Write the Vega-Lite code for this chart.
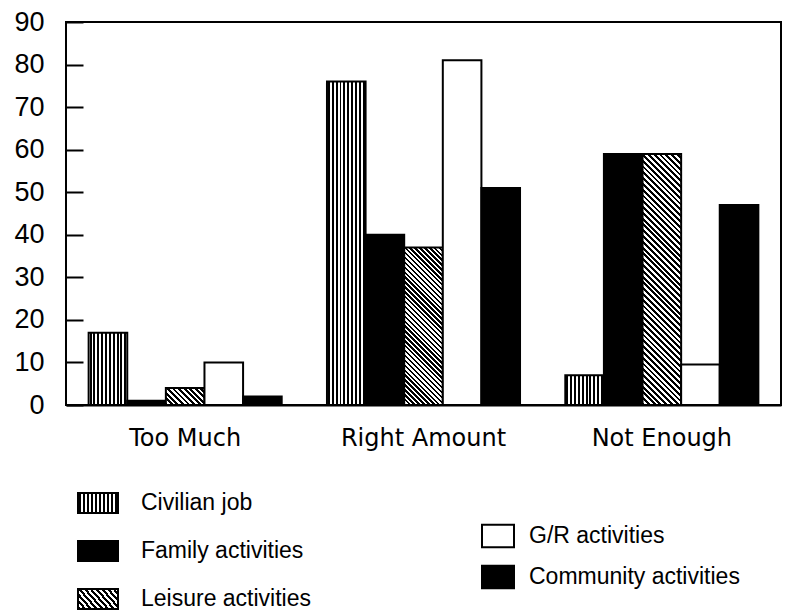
{
"$schema": "https://vega.github.io/schema/vega-lite/v6.json",
"width": 715, "height": 383,
"autosize": "none",
"padding": {"left": 66, "top": 22, "right": 16, "bottom": 208},
"background": "white",
"config": {"font": "Liberation Sans", "view": {"stroke": "black", "strokeWidth": 2, "fill": null}},
"data": {"values": [
{"group":"Too Much","series":"Civilian job","value":17},
{"group":"Too Much","series":"Family activities","value":1},
{"group":"Too Much","series":"Leisure activities","value":4},
{"group":"Too Much","series":"G/R activities","value":10},
{"group":"Too Much","series":"Community activities","value":2},
{"group":"Right Amount","series":"Civilian job","value":76},
{"group":"Right Amount","series":"Family activities","value":40},
{"group":"Right Amount","series":"Leisure activities","value":37},
{"group":"Right Amount","series":"G/R activities","value":81},
{"group":"Right Amount","series":"Community activities","value":51},
{"group":"Not Enough","series":"Civilian job","value":7},
{"group":"Not Enough","series":"Family activities","value":59},
{"group":"Not Enough","series":"Leisure activities","value":59},
{"group":"Not Enough","series":"G/R activities","value":9.5},
{"group":"Not Enough","series":"Community activities","value":47}
]},
"encoding": {
"x": {"field":"group","type":"nominal","sort":["Too Much","Right Amount","Not Enough"],"scale":{"paddingInner":0.19,"paddingOuter":0.095},
 "axis":{"title":null,"ticks":false,"labelAngle":0,"labelFontSize":24,"labelFont":"DejaVu Sans","labelColor":"black","labelPadding":21,"domainColor":"black","domainWidth":2}},
"xOffset": {"field":"series","type":"nominal","scale":{"domain":["Civilian job","Family activities","Leisure activities","G/R activities","Community activities"],"paddingInner":0,"paddingOuter":0}},
"y": {"field":"value","type":"quantitative","scale":{"domain":[0,90],"nice":false},
 "axis":{"title":null,"values":[0,10,20,30,40,50,60,70,80,90],"offset":-17,"domain":false,"ticks":true,"tickSize":17,"tickWidth":2,"tickColor":"black","tickOpacity":1,"labelPadding":22,"labelFontSize":27,"labelColor":"black","zindex":2,"grid":false}}
},
"layer": [
{"transform":[{"filter":{"field":"series","oneOf":["Civilian job","Family activities","Leisure activities"]}}],
 "mark":{"type":"bar","stroke":"black","strokeWidth":2},
 "encoding":{"fill":{"field":"series","type":"nominal",
  "scale":{"domain":["Civilian job","Family activities","Leisure activities"],"range":["url(#gradient_0)","#000000","url(#gradient_1)"]},
  "legend":{"title":null,"orient":"none","legendX":11,"legendY":460,"padding":0,"symbolType":"M-1,-0.5H1V0.5H-1Z","symbolSize":1600,"symbolStrokeColor":"black","symbolStrokeWidth":2,"symbolOpacity":1,"labelFontSize":23,"labelColor":"black","labelOffset":22,"rowPadding":13,"labelLimit":400,
   "encode":{"symbols":{"update":{"stroke":{"value":"#000"},"strokeWidth":{"value":2}}}}},
  "condition":[
   {"test":"datum.series === 'Civilian job'","value":{"gradient":"linear","x1":0,"y1":0,"x2":1,"y2":0,"stops":[{"offset":0,"color":"#fff"},{"offset":0.025,"color":"#fff"},{"offset":0.025,"color":"#000"},{"offset":0.075,"color":"#000"},{"offset":0.075,"color":"#fff"},{"offset":0.125,"color":"#fff"},{"offset":0.125,"color":"#000"},{"offset":0.175,"color":"#000"},{"offset":0.175,"color":"#fff"},{"offset":0.225,"color":"#fff"},{"offset":0.225,"color":"#000"},{"offset":0.275,"color":"#000"},{"offset":0.275,"color":"#fff"},{"offset":0.325,"color":"#fff"},{"offset":0.325,"color":"#000"},{"offset":0.375,"color":"#000"},{"offset":0.375,"color":"#fff"},{"offset":0.425,"color":"#fff"},{"offset":0.425,"color":"#000"},{"offset":0.475,"color":"#000"},{"offset":0.475,"color":"#fff"},{"offset":0.525,"color":"#fff"},{"offset":0.525,"color":"#000"},{"offset":0.575,"color":"#000"},{"offset":0.575,"color":"#fff"},{"offset":0.625,"color":"#fff"},{"offset":0.625,"color":"#000"},{"offset":0.675,"color":"#000"},{"offset":0.675,"color":"#fff"},{"offset":0.725,"color":"#fff"},{"offset":0.725,"color":"#000"},{"offset":0.775,"color":"#000"},{"offset":0.775,"color":"#fff"},{"offset":0.825,"color":"#fff"},{"offset":0.825,"color":"#000"},{"offset":0.875,"color":"#000"},{"offset":0.875,"color":"#fff"},{"offset":0.925,"color":"#fff"},{"offset":0.925,"color":"#000"},{"offset":0.975,"color":"#000"},{"offset":0.975,"color":"#fff"},{"offset":1,"color":"#fff"}]}},
   {"test":"datum.series === 'Leisure activities' && datum.group === 'Too Much'","value":{"gradient":"linear","x1":0,"y1":1,"x2":1.2064,"y2":0.4682,"stops":[{"offset":0,"color":"#000"},{"offset":0.05,"color":"#000"},{"offset":0.05,"color":"#fff"},{"offset":0.1,"color":"#fff"},{"offset":0.1,"color":"#000"},{"offset":0.15,"color":"#000"},{"offset":0.15,"color":"#fff"},{"offset":0.2,"color":"#fff"},{"offset":0.2,"color":"#000"},{"offset":0.25,"color":"#000"},{"offset":0.25,"color":"#fff"},{"offset":0.3,"color":"#fff"},{"offset":0.3,"color":"#000"},{"offset":0.35,"color":"#000"},{"offset":0.35,"color":"#fff"},{"offset":0.4,"color":"#fff"},{"offset":0.4,"color":"#000"},{"offset":0.45,"color":"#000"},{"offset":0.45,"color":"#fff"},{"offset":0.5,"color":"#fff"},{"offset":0.5,"color":"#000"},{"offset":0.55,"color":"#000"},{"offset":0.55,"color":"#fff"},{"offset":0.6,"color":"#fff"},{"offset":0.6,"color":"#000"},{"offset":0.65,"color":"#000"},{"offset":0.65,"color":"#fff"},{"offset":0.7,"color":"#fff"},{"offset":0.7,"color":"#000"},{"offset":0.75,"color":"#000"},{"offset":0.75,"color":"#fff"},{"offset":0.8,"color":"#fff"},{"offset":0.8,"color":"#000"},{"offset":0.85,"color":"#000"},{"offset":0.85,"color":"#fff"},{"offset":0.9,"color":"#fff"},{"offset":0.9,"color":"#000"},{"offset":0.95,"color":"#000"},{"offset":0.95,"color":"#fff"},{"offset":1,"color":"#fff"}]}},
   {"test":"datum.series === 'Leisure activities' && datum.group === 'Right Amount'","value":{"gradient":"linear","x1":0,"y1":1,"x2":0.288,"y2":-0.1746,"stops":[{"offset":0,"color":"#000"},{"offset":0.0125,"color":"#000"},{"offset":0.0125,"color":"#fff"},{"offset":0.025,"color":"#fff"},{"offset":0.025,"color":"#000"},{"offset":0.0375,"color":"#000"},{"offset":0.0375,"color":"#fff"},{"offset":0.05,"color":"#fff"},{"offset":0.05,"color":"#000"},{"offset":0.0625,"color":"#000"},{"offset":0.0625,"color":"#fff"},{"offset":0.075,"color":"#fff"},{"offset":0.075,"color":"#000"},{"offset":0.0875,"color":"#000"},{"offset":0.0875,"color":"#fff"},{"offset":0.1,"color":"#fff"},{"offset":0.1,"color":"#000"},{"offset":0.1125,"color":"#000"},{"offset":0.1125,"color":"#fff"},{"offset":0.125,"color":"#fff"},{"offset":0.125,"color":"#000"},{"offset":0.1375,"color":"#000"},{"offset":0.1375,"color":"#fff"},{"offset":0.15,"color":"#fff"},{"offset":0.15,"color":"#000"},{"offset":0.1625,"color":"#000"},{"offset":0.1625,"color":"#fff"},{"offset":0.175,"color":"#fff"},{"offset":0.175,"color":"#000"},{"offset":0.1875,"color":"#000"},{"offset":0.1875,"color":"#fff"},{"offset":0.2,"color":"#fff"},{"offset":0.2,"color":"#000"},{"offset":0.2125,"color":"#000"},{"offset":0.2125,"color":"#fff"},{"offset":0.225,"color":"#fff"},{"offset":0.225,"color":"#000"},{"offset":0.2375,"color":"#000"},{"offset":0.2375,"color":"#fff"},{"offset":0.25,"color":"#fff"},{"offset":0.25,"color":"#000"},{"offset":0.2625,"color":"#000"},{"offset":0.2625,"color":"#fff"},{"offset":0.275,"color":"#fff"},{"offset":0.275,"color":"#000"},{"offset":0.2875,"color":"#000"},{"offset":0.2875,"color":"#fff"},{"offset":0.3,"color":"#fff"},{"offset":0.3,"color":"#000"},{"offset":0.3125,"color":"#000"},{"offset":0.3125,"color":"#fff"},{"offset":0.325,"color":"#fff"},{"offset":0.325,"color":"#000"},{"offset":0.3375,"color":"#000"},{"offset":0.3375,"color":"#fff"},{"offset":0.35,"color":"#fff"},{"offset":0.35,"color":"#000"},{"offset":0.3625,"color":"#000"},{"offset":0.3625,"color":"#fff"},{"offset":0.375,"color":"#fff"},{"offset":0.375,"color":"#000"},{"offset":0.3875,"color":"#000"},{"offset":0.3875,"color":"#fff"},{"offset":0.4,"color":"#fff"},{"offset":0.4,"color":"#000"},{"offset":0.4125,"color":"#000"},{"offset":0.4125,"color":"#fff"},{"offset":0.425,"color":"#fff"},{"offset":0.425,"color":"#000"},{"offset":0.4375,"color":"#000"},{"offset":0.4375,"color":"#fff"},{"offset":0.45,"color":"#fff"},{"offset":0.45,"color":"#000"},{"offset":0.4625,"color":"#000"},{"offset":0.4625,"color":"#fff"},{"offset":0.475,"color":"#fff"},{"offset":0.475,"color":"#000"},{"offset":0.4875,"color":"#000"},{"offset":0.4875,"color":"#fff"},{"offset":0.5,"color":"#fff"},{"offset":0.5,"color":"#000"},{"offset":0.5125,"color":"#000"},{"offset":0.5125,"color":"#fff"},{"offset":0.525,"color":"#fff"},{"offset":0.525,"color":"#000"},{"offset":0.5375,"color":"#000"},{"offset":0.5375,"color":"#fff"},{"offset":0.55,"color":"#fff"},{"offset":0.55,"color":"#000"},{"offset":0.5625,"color":"#000"},{"offset":0.5625,"color":"#fff"},{"offset":0.575,"color":"#fff"},{"offset":0.575,"color":"#000"},{"offset":0.5875,"color":"#000"},{"offset":0.5875,"color":"#fff"},{"offset":0.6,"color":"#fff"},{"offset":0.6,"color":"#000"},{"offset":0.6125,"color":"#000"},{"offset":0.6125,"color":"#fff"},{"offset":0.625,"color":"#fff"},{"offset":0.625,"color":"#000"},{"offset":0.6375,"color":"#000"},{"offset":0.6375,"color":"#fff"},{"offset":0.65,"color":"#fff"},{"offset":0.65,"color":"#000"},{"offset":0.6625,"color":"#000"},{"offset":0.6625,"color":"#fff"},{"offset":0.675,"color":"#fff"},{"offset":0.675,"color":"#000"},{"offset":0.6875,"color":"#000"},{"offset":0.6875,"color":"#fff"},{"offset":0.7,"color":"#fff"},{"offset":0.7,"color":"#000"},{"offset":0.7125,"color":"#000"},{"offset":0.7125,"color":"#fff"},{"offset":0.725,"color":"#fff"},{"offset":0.725,"color":"#000"},{"offset":0.7375,"color":"#000"},{"offset":0.7375,"color":"#fff"},{"offset":0.75,"color":"#fff"},{"offset":0.75,"color":"#000"},{"offset":0.7625,"color":"#000"},{"offset":0.7625,"color":"#fff"},{"offset":0.775,"color":"#fff"},{"offset":0.775,"color":"#000"},{"offset":0.7875,"color":"#000"},{"offset":0.7875,"color":"#fff"},{"offset":0.8,"color":"#fff"},{"offset":0.8,"color":"#000"},{"offset":0.8125,"color":"#000"},{"offset":0.8125,"color":"#fff"},{"offset":0.825,"color":"#fff"},{"offset":0.825,"color":"#000"},{"offset":0.8375,"color":"#000"},{"offset":0.8375,"color":"#fff"},{"offset":0.85,"color":"#fff"},{"offset":0.85,"color":"#000"},{"offset":0.8625,"color":"#000"},{"offset":0.8625,"color":"#fff"},{"offset":0.875,"color":"#fff"},{"offset":0.875,"color":"#000"},{"offset":0.8875,"color":"#000"},{"offset":0.8875,"color":"#fff"},{"offset":0.9,"color":"#fff"},{"offset":0.9,"color":"#000"},{"offset":0.9125,"color":"#000"},{"offset":0.9125,"color":"#fff"},{"offset":0.925,"color":"#fff"},{"offset":0.925,"color":"#000"},{"offset":0.9375,"color":"#000"},{"offset":0.9375,"color":"#fff"},{"offset":0.95,"color":"#fff"},{"offset":0.95,"color":"#000"},{"offset":0.9625,"color":"#000"},{"offset":0.9625,"color":"#fff"},{"offset":0.975,"color":"#fff"},{"offset":0.975,"color":"#000"},{"offset":0.9875,"color":"#000"},{"offset":0.9875,"color":"#fff"},{"offset":1,"color":"#fff"}]}},
   {"test":"datum.series === 'Leisure activities' && datum.group === 'Not Enough'","value":{"gradient":"linear","x1":0,"y1":1,"x2":0.1733,"y2":-0.1271,"stops":[{"offset":0,"color":"#000"},{"offset":0.01,"color":"#000"},{"offset":0.01,"color":"#fff"},{"offset":0.02,"color":"#fff"},{"offset":0.02,"color":"#000"},{"offset":0.03,"color":"#000"},{"offset":0.03,"color":"#fff"},{"offset":0.04,"color":"#fff"},{"offset":0.04,"color":"#000"},{"offset":0.05,"color":"#000"},{"offset":0.05,"color":"#fff"},{"offset":0.06,"color":"#fff"},{"offset":0.06,"color":"#000"},{"offset":0.07,"color":"#000"},{"offset":0.07,"color":"#fff"},{"offset":0.08,"color":"#fff"},{"offset":0.08,"color":"#000"},{"offset":0.09,"color":"#000"},{"offset":0.09,"color":"#fff"},{"offset":0.1,"color":"#fff"},{"offset":0.1,"color":"#000"},{"offset":0.11,"color":"#000"},{"offset":0.11,"color":"#fff"},{"offset":0.12,"color":"#fff"},{"offset":0.12,"color":"#000"},{"offset":0.13,"color":"#000"},{"offset":0.13,"color":"#fff"},{"offset":0.14,"color":"#fff"},{"offset":0.14,"color":"#000"},{"offset":0.15,"color":"#000"},{"offset":0.15,"color":"#fff"},{"offset":0.16,"color":"#fff"},{"offset":0.16,"color":"#000"},{"offset":0.17,"color":"#000"},{"offset":0.17,"color":"#fff"},{"offset":0.18,"color":"#fff"},{"offset":0.18,"color":"#000"},{"offset":0.19,"color":"#000"},{"offset":0.19,"color":"#fff"},{"offset":0.2,"color":"#fff"},{"offset":0.2,"color":"#000"},{"offset":0.21,"color":"#000"},{"offset":0.21,"color":"#fff"},{"offset":0.22,"color":"#fff"},{"offset":0.22,"color":"#000"},{"offset":0.23,"color":"#000"},{"offset":0.23,"color":"#fff"},{"offset":0.24,"color":"#fff"},{"offset":0.24,"color":"#000"},{"offset":0.25,"color":"#000"},{"offset":0.25,"color":"#fff"},{"offset":0.26,"color":"#fff"},{"offset":0.26,"color":"#000"},{"offset":0.27,"color":"#000"},{"offset":0.27,"color":"#fff"},{"offset":0.28,"color":"#fff"},{"offset":0.28,"color":"#000"},{"offset":0.29,"color":"#000"},{"offset":0.29,"color":"#fff"},{"offset":0.3,"color":"#fff"},{"offset":0.3,"color":"#000"},{"offset":0.31,"color":"#000"},{"offset":0.31,"color":"#fff"},{"offset":0.32,"color":"#fff"},{"offset":0.32,"color":"#000"},{"offset":0.33,"color":"#000"},{"offset":0.33,"color":"#fff"},{"offset":0.34,"color":"#fff"},{"offset":0.34,"color":"#000"},{"offset":0.35,"color":"#000"},{"offset":0.35,"color":"#fff"},{"offset":0.36,"color":"#fff"},{"offset":0.36,"color":"#000"},{"offset":0.37,"color":"#000"},{"offset":0.37,"color":"#fff"},{"offset":0.38,"color":"#fff"},{"offset":0.38,"color":"#000"},{"offset":0.39,"color":"#000"},{"offset":0.39,"color":"#fff"},{"offset":0.4,"color":"#fff"},{"offset":0.4,"color":"#000"},{"offset":0.41,"color":"#000"},{"offset":0.41,"color":"#fff"},{"offset":0.42,"color":"#fff"},{"offset":0.42,"color":"#000"},{"offset":0.43,"color":"#000"},{"offset":0.43,"color":"#fff"},{"offset":0.44,"color":"#fff"},{"offset":0.44,"color":"#000"},{"offset":0.45,"color":"#000"},{"offset":0.45,"color":"#fff"},{"offset":0.46,"color":"#fff"},{"offset":0.46,"color":"#000"},{"offset":0.47,"color":"#000"},{"offset":0.47,"color":"#fff"},{"offset":0.48,"color":"#fff"},{"offset":0.48,"color":"#000"},{"offset":0.49,"color":"#000"},{"offset":0.49,"color":"#fff"},{"offset":0.5,"color":"#fff"},{"offset":0.5,"color":"#000"},{"offset":0.51,"color":"#000"},{"offset":0.51,"color":"#fff"},{"offset":0.52,"color":"#fff"},{"offset":0.52,"color":"#000"},{"offset":0.53,"color":"#000"},{"offset":0.53,"color":"#fff"},{"offset":0.54,"color":"#fff"},{"offset":0.54,"color":"#000"},{"offset":0.55,"color":"#000"},{"offset":0.55,"color":"#fff"},{"offset":0.56,"color":"#fff"},{"offset":0.56,"color":"#000"},{"offset":0.57,"color":"#000"},{"offset":0.57,"color":"#fff"},{"offset":0.58,"color":"#fff"},{"offset":0.58,"color":"#000"},{"offset":0.59,"color":"#000"},{"offset":0.59,"color":"#fff"},{"offset":0.6,"color":"#fff"},{"offset":0.6,"color":"#000"},{"offset":0.61,"color":"#000"},{"offset":0.61,"color":"#fff"},{"offset":0.62,"color":"#fff"},{"offset":0.62,"color":"#000"},{"offset":0.63,"color":"#000"},{"offset":0.63,"color":"#fff"},{"offset":0.64,"color":"#fff"},{"offset":0.64,"color":"#000"},{"offset":0.65,"color":"#000"},{"offset":0.65,"color":"#fff"},{"offset":0.66,"color":"#fff"},{"offset":0.66,"color":"#000"},{"offset":0.67,"color":"#000"},{"offset":0.67,"color":"#fff"},{"offset":0.68,"color":"#fff"},{"offset":0.68,"color":"#000"},{"offset":0.69,"color":"#000"},{"offset":0.69,"color":"#fff"},{"offset":0.7,"color":"#fff"},{"offset":0.7,"color":"#000"},{"offset":0.71,"color":"#000"},{"offset":0.71,"color":"#fff"},{"offset":0.72,"color":"#fff"},{"offset":0.72,"color":"#000"},{"offset":0.73,"color":"#000"},{"offset":0.73,"color":"#fff"},{"offset":0.74,"color":"#fff"},{"offset":0.74,"color":"#000"},{"offset":0.75,"color":"#000"},{"offset":0.75,"color":"#fff"},{"offset":0.76,"color":"#fff"},{"offset":0.76,"color":"#000"},{"offset":0.77,"color":"#000"},{"offset":0.77,"color":"#fff"},{"offset":0.78,"color":"#fff"},{"offset":0.78,"color":"#000"},{"offset":0.79,"color":"#000"},{"offset":0.79,"color":"#fff"},{"offset":0.8,"color":"#fff"},{"offset":0.8,"color":"#000"},{"offset":0.81,"color":"#000"},{"offset":0.81,"color":"#fff"},{"offset":0.82,"color":"#fff"},{"offset":0.82,"color":"#000"},{"offset":0.83,"color":"#000"},{"offset":0.83,"color":"#fff"},{"offset":0.84,"color":"#fff"},{"offset":0.84,"color":"#000"},{"offset":0.85,"color":"#000"},{"offset":0.85,"color":"#fff"},{"offset":0.86,"color":"#fff"},{"offset":0.86,"color":"#000"},{"offset":0.87,"color":"#000"},{"offset":0.87,"color":"#fff"},{"offset":0.88,"color":"#fff"},{"offset":0.88,"color":"#000"},{"offset":0.89,"color":"#000"},{"offset":0.89,"color":"#fff"},{"offset":0.9,"color":"#fff"},{"offset":0.9,"color":"#000"},{"offset":0.91,"color":"#000"},{"offset":0.91,"color":"#fff"},{"offset":0.92,"color":"#fff"},{"offset":0.92,"color":"#000"},{"offset":0.93,"color":"#000"},{"offset":0.93,"color":"#fff"},{"offset":0.94,"color":"#fff"},{"offset":0.94,"color":"#000"},{"offset":0.95,"color":"#000"},{"offset":0.95,"color":"#fff"},{"offset":0.96,"color":"#fff"},{"offset":0.96,"color":"#000"},{"offset":0.97,"color":"#000"},{"offset":0.97,"color":"#fff"},{"offset":0.98,"color":"#fff"},{"offset":0.98,"color":"#000"},{"offset":0.99,"color":"#000"},{"offset":0.99,"color":"#fff"},{"offset":1,"color":"#fff"}]}}
  ]}}},
{"transform":[{"filter":{"field":"series","oneOf":["G/R activities","Community activities"]}}],
 "mark":{"type":"bar","stroke":"black","strokeWidth":2},
 "encoding":{"fill":{"field":"series","type":"nominal",
  "scale":{"domain":["G/R activities","Community activities"],"range":["#ffffff","#000000"]},
  "legend":{"title":null,"orient":"none","legendX":415,"legendY":497,"padding":0,"symbolType":"M-1,-0.7H1V0.7H-1Z","symbolSize":1024,"symbolStrokeColor":"black","symbolStrokeWidth":2,"symbolOpacity":1,"labelFontSize":23,"labelColor":"black","labelOffset":14,"rowPadding":8,"labelLimit":400}}}}
],
"resolve": {"scale": {"fill": "independent"}}
}
